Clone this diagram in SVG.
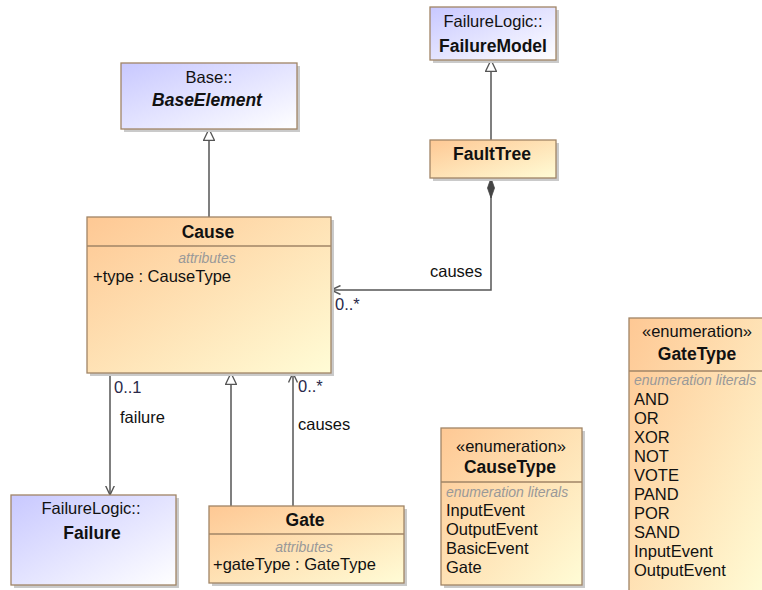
<svg xmlns="http://www.w3.org/2000/svg" width="762" height="590" viewBox="0 0 762 590">
<style>
text{font-family:"Liberation Sans",Arial,sans-serif;font-size:16.5px;fill:#111}
.b{font-weight:bold;font-size:17.5px}
.bi{font-weight:bold;font-style:italic;font-size:17.5px}
.c{text-anchor:middle}
.sec{font-style:italic;font-size:14px;fill:#999}
.mul{fill:#2a2a4a}
.box{stroke:#A08466;stroke-width:1.3}
.or{fill:url(#gO)}
.bl{fill:url(#gB)}
.sh{fill:#cacaca}
.div{stroke:#A08466;stroke-width:1.3}
.ln{fill:none;stroke:#555;stroke-width:1.5}
</style>
<defs>
<linearGradient id="gO" x1="0" y1="0" x2="1" y2="1"><stop offset="0" stop-color="#FEC894"/><stop offset="1" stop-color="#FFFCD6"/></linearGradient>
<linearGradient id="gB" x1="0" y1="0" x2="1" y2="1"><stop offset="0" stop-color="#C8C8FF"/><stop offset="1" stop-color="#FFFFFF"/></linearGradient>
<marker id="gen" viewBox="0 0 12 12" refX="12" refY="6" markerWidth="12" markerHeight="12" markerUnits="userSpaceOnUse" orient="auto"><path d="M0.5,0.5 L12,6 L0.5,11.5 Z" fill="#fff" stroke="#555" stroke-width="1.3"/></marker>
<marker id="open" viewBox="0 0 10 10" refX="9.5" refY="5" markerWidth="10" markerHeight="10" markerUnits="userSpaceOnUse" orient="auto"><path d="M0,0.5 L9.5,5 L0,9.5" fill="none" stroke="#555" stroke-width="1.4"/></marker>
<marker id="dia" viewBox="0 0 20 8" refX="0" refY="4" markerWidth="20" markerHeight="8" markerUnits="userSpaceOnUse" orient="auto"><path d="M0,4 L10,0.5 L20,4 L10,7.5 Z" fill="#444" stroke="#444" stroke-width="0.8"/></marker>
</defs>
<rect width="762" height="590" fill="#fff"/>

<g id="connectors">
<path class="ln" d="M209,217 L209,129" marker-end="url(#gen)"/>
<path class="ln" d="M491,140 L491,60" marker-end="url(#gen)"/>
<path class="ln" d="M491,178 L491,290 L331,290" marker-start="url(#dia)" marker-end="url(#open)"/>
<path class="ln" d="M110,373 L110,495" marker-end="url(#open)"/>
<path class="ln" d="M231,506 L231,373" marker-end="url(#gen)"/>
<path class="ln" d="M293,506 L293,373" marker-end="url(#open)"/>
<text x="430" y="277">causes</text>
<text class="mul" x="335" y="310">0..*</text>
<text class="mul" x="114" y="393">0..1</text>
<text x="120" y="423">failure</text>
<text class="mul" x="298" y="392">0..*</text>
<text x="298" y="430">causes</text>
</g>

<g id="BaseElement">
<rect class="sh" x="124" y="66" width="176" height="66"/>
<rect class="box bl" x="121" y="63" width="176" height="66"/>
<text class="c" x="209" y="83">Base::</text>
<text class="bi c" x="207" y="106">BaseElement</text>
</g>

<g id="FailureModel">
<rect class="sh" x="433" y="10" width="126" height="53"/>
<rect class="box bl" x="430" y="7" width="126" height="53"/>
<text class="c" x="493" y="27">FailureLogic::</text>
<text class="b c" x="493" y="52">FailureModel</text>
</g>

<g id="FaultTree">
<rect class="sh" x="433" y="143" width="126" height="38"/>
<rect class="box or" x="430" y="140" width="126" height="38"/>
<text class="b c" x="492" y="160">FaultTree</text>
</g>

<g id="Cause">
<rect class="sh" x="90" y="220" width="244" height="156"/>
<rect class="box or" x="87" y="217" width="244" height="156"/>
<line class="div" x1="87" y1="246" x2="331" y2="246"/>
<text class="b c" x="208" y="238">Cause</text>
<text class="sec c" x="207" y="263">attributes</text>
<text x="93" y="282">+type : CauseType</text>
</g>

<g id="Failure">
<rect class="sh" x="14" y="498" width="165" height="90"/>
<rect class="box bl" x="11" y="495" width="165" height="90"/>
<text class="c" x="91" y="514">FailureLogic::</text>
<text class="b c" x="92" y="539">Failure</text>
</g>

<g id="Gate">
<rect class="sh" x="212" y="509" width="195" height="77"/>
<rect class="box or" x="209" y="506" width="195" height="77"/>
<line class="div" x1="209" y1="534" x2="404" y2="534"/>
<text class="b c" x="305" y="526">Gate</text>
<text class="sec c" x="304" y="552">attributes</text>
<text x="213" y="570">+gateType : GateType</text>
</g>

<g id="CauseType">
<rect class="sh" x="444" y="431" width="141" height="157"/>
<rect class="box or" x="441" y="428" width="141" height="157"/>
<line class="div" x1="441" y1="482" x2="582" y2="482"/>
<text class="c" x="511" y="452">«enumeration»</text>
<text class="b c" x="510" y="473">CauseType</text>
<text class="sec" x="446" y="497">enumeration literals</text>
<text x="446" y="516">InputEvent</text>
<text x="446" y="535">OutputEvent</text>
<text x="446" y="554">BasicEvent</text>
<text x="446" y="573">Gate</text>
</g>

<g id="GateType">
<rect class="sh" x="632" y="321" width="135" height="280"/>
<rect class="box or" x="629" y="318" width="135" height="280"/>
<line class="div" x1="629" y1="371" x2="764" y2="371"/>
<text class="c" x="697" y="337">«enumeration»</text>
<text class="b c" x="697" y="360">GateType</text>
<text class="sec" x="634" y="385">enumeration literals</text>
<text x="634" y="405">AND</text>
<text x="634" y="424">OR</text>
<text x="634" y="443">XOR</text>
<text x="634" y="462">NOT</text>
<text x="634" y="481">VOTE</text>
<text x="634" y="500">PAND</text>
<text x="634" y="519">POR</text>
<text x="634" y="538">SAND</text>
<text x="634" y="557">InputEvent</text>
<text x="634" y="576">OutputEvent</text>
</g>
</svg>
